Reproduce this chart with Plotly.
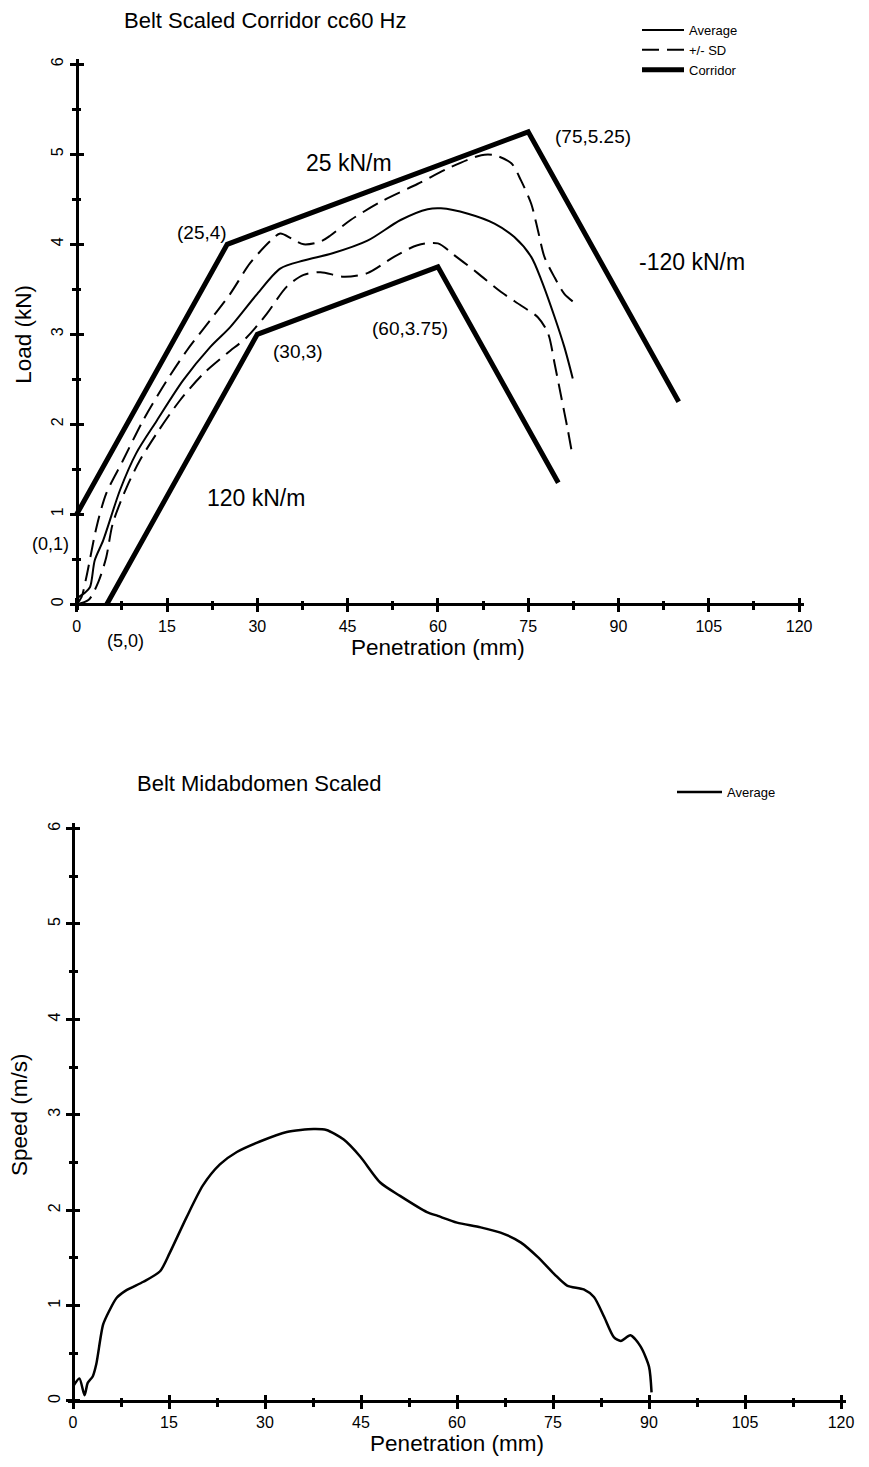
import plotly.graph_objects as go

W, H = 869, 1467
FONT = "Liberation Sans, Arial, sans-serif"

# ---------------- data ----------------
x_ticks = [0, 15, 30, 45, 60, 75, 90, 105, 120]
x_minor = [7.5, 22.5, 37.5, 52.5, 67.5, 82.5, 97.5, 112.5]
y_ticks = [0, 1, 2, 3, 4, 5, 6]
y_minor = [0.5, 1.5, 2.5, 3.5, 4.5, 5.5]

avg_x = [0, 0.2, 1.2, 2.2, 3.0, 4.4, 7.2, 9.9, 13.3, 17.7, 22.2, 25.5, 30, 33.8, 37.7,
         42.5, 48.3, 53.8, 58.3, 60.5, 65, 69.4, 72.7, 75.5, 77.2, 79.4, 81, 82.4]
avg_y = [0, 0.07, 0.12, 0.19, 0.49, 0.71, 1.27, 1.68, 2.04, 2.49, 2.86, 3.08, 3.45, 3.73, 3.82,
         3.90, 4.04, 4.27, 4.39, 4.40, 4.34, 4.23, 4.08, 3.86, 3.60, 3.19, 2.86, 2.51]

sd_hi_x = [0, 0.8, 1.6, 3.3, 4.9, 7.7, 11, 15, 18.3, 22.2, 25.5, 28.8, 32.2, 33.8, 35.8,
           37.7, 40.5, 42.2, 45.5, 51, 56.6, 62.2, 67.2, 69.4, 72.2, 73.8, 75.5, 76.6,
           77.7, 79.4, 81, 82.5]
sd_hi_y = [0, 0.08, 0.3, 0.86, 1.23, 1.6, 2.04, 2.49, 2.82, 3.16, 3.45, 3.79, 4.04, 4.12, 4.06,
           4.0, 4.03, 4.1, 4.27, 4.49, 4.67, 4.86, 4.99, 4.99, 4.9, 4.71, 4.45, 4.16,
           3.86, 3.63, 3.45, 3.36]

sd_lo_x = [0, 2, 3.6, 4.9, 6, 8.3, 10.5, 13.3, 17.2, 21, 25, 28.3, 31.6, 34.9, 37.7, 40.5,
           44.4, 48.3, 52.7, 56.6, 60, 62.7, 66.6, 70.5, 73.8, 76.6, 78.3, 79.4, 80.5,
           81.6, 82.2]
sd_lo_y = [0, 0.05, 0.25, 0.52, 0.9, 1.3, 1.6, 1.9, 2.27, 2.56, 2.79, 2.97, 3.23, 3.53, 3.66,
           3.69, 3.64, 3.68, 3.86, 3.99, 4.01, 3.88, 3.68, 3.47, 3.32, 3.19, 3.01, 2.67,
           2.3, 1.93, 1.71]

corr_hi_x = [0, 25, 75, 100]
corr_hi_y = [1, 4, 5.25, 2.25]
corr_lo_x = [5, 30, 60, 80]
corr_lo_y = [0, 3, 3.75, 1.35]

spd_x = [0, 1.0, 1.8, 2.3, 3.1, 3.65, 4.7, 5.7, 6.8, 8.3, 11, 13.6, 15.1, 17.7, 20.3,
         22.95, 25.6, 29.2, 33.4, 37.6, 39.6, 42.3, 44.9, 48, 51.1, 55.3, 57, 60, 63.7,
         67.4, 70, 72.6, 75.2, 77.2, 79.8, 81.4, 83, 84.5, 85.6, 87.1, 88.7, 90, 90.4]
spd_y = [0.15, 0.235, 0.06, 0.19, 0.26, 0.39, 0.80, 0.95, 1.08, 1.16, 1.25, 1.36, 1.55,
         1.92, 2.26, 2.48, 2.61, 2.72, 2.82, 2.85, 2.84, 2.74, 2.56, 2.29, 2.15, 1.98,
         1.94, 1.87, 1.82, 1.75, 1.66, 1.51, 1.33, 1.21, 1.17, 1.09, 0.88, 0.67, 0.63,
         0.69, 0.57, 0.36, 0.09]

# ---------------- geometry (pixels) ----------------
XR = [-0.8, 120.8]
YR = [-0.06, 6.06]
TOP = dict(x0=76.7, sx=6.02, y0=604.3, sy=90.0)
BOT = dict(x0=73.0, sx=6.4, y0=1401.0, sy=95.4)


def px(x):
    return x / W


def py(y):
    return 1 - y / H


def dom(g):
    xd = [px(g["x0"] + g["sx"] * XR[0]), px(g["x0"] + g["sx"] * XR[1])]
    yd = [py(g["y0"] - g["sy"] * YR[0]), py(g["y0"] - g["sy"] * YR[1])]
    return xd, yd


fig = go.Figure()

BLK = "black"
fig.add_trace(go.Scatter(x=avg_x, y=avg_y, mode="lines", name="Average",
                         line=dict(color=BLK, width=2, shape="spline", smoothing=0.8),
                         legend="legend"))
fig.add_trace(go.Scatter(x=sd_hi_x, y=sd_hi_y, mode="lines", name="+/- SD",
                         legendgroup="sd",
                         line=dict(color=BLK, width=2, dash="17px,8px", shape="spline", smoothing=0.8),
                         legend="legend"))
fig.add_trace(go.Scatter(x=sd_lo_x, y=sd_lo_y, mode="lines", name="+/- SD",
                         legendgroup="sd", showlegend=False,
                         line=dict(color=BLK, width=2, dash="17px,8px", shape="spline", smoothing=0.8)))
fig.add_trace(go.Scatter(x=corr_hi_x, y=corr_hi_y, mode="lines", name="Corridor",
                         legendgroup="corr",
                         line=dict(color=BLK, width=5), legend="legend"))
fig.add_trace(go.Scatter(x=corr_lo_x, y=corr_lo_y, mode="lines", name="Corridor",
                         legendgroup="corr", showlegend=False,
                         line=dict(color=BLK, width=5)))
fig.add_trace(go.Scatter(x=[], y=[], xaxis="x3", yaxis="y3", showlegend=False))

fig.add_trace(go.Scatter(x=spd_x, y=spd_y, mode="lines", name="Average",
                         xaxis="x2", yaxis="y2", legend="legend2",
                         line=dict(color=BLK, width=2.5, shape="spline", smoothing=0.7)))
fig.add_trace(go.Scatter(x=[], y=[], xaxis="x4", yaxis="y4", showlegend=False))

TICKF = dict(family=FONT, size=16, color=BLK)
AXTF = dict(family=FONT, size=22.5, color=BLK)


def main_x(g, title, standoff):
    xd, yd = dom(g)
    return dict(domain=xd, range=XR, anchor="free", position=py(g["y0"]),
                showline=True, linewidth=3, linecolor=BLK, showgrid=False, zeroline=False,
                ticks="outside", ticklen=6, tickwidth=2.5, tickcolor=BLK,
                tickmode="array", tickvals=x_ticks, ticktext=[str(v) for v in x_ticks],
                minor=dict(ticks="outside", ticklen=3.5, tickwidth=2.5, tickcolor=BLK,
                           tickmode="array", tickvals=x_minor),
                tickfont=TICKF,
                title=dict(text=title, font=AXTF, standoff=standoff),
                automargin=False)


def main_y(g, title, standoff):
    xd, yd = dom(g)
    return dict(domain=yd, range=YR, anchor="free", position=px(g["x0"]),
                showline=True, linewidth=3, linecolor=BLK, showgrid=False, zeroline=False,
                ticks="outside", ticklen=6, tickwidth=2.5, tickcolor=BLK,
                tickmode="array", tickvals=y_ticks, ticktext=[str(v) for v in y_ticks],
                tickangle=-90,
                minor=dict(ticks="outside", ticklen=3.5, tickwidth=2.5, tickcolor=BLK,
                           tickmode="array", tickvals=y_minor),
                tickfont=TICKF,
                title=dict(text=title, font=AXTF, standoff=standoff),
                automargin=False)


def over_x(g, base):
    return dict(overlaying=base, range=XR, anchor="free", position=py(g["y0"]),
                showline=False, showgrid=False, zeroline=False, showticklabels=False,
                ticks="inside", ticklen=6, tickwidth=2.5, tickcolor=BLK,
                tickmode="array", tickvals=x_ticks,
                minor=dict(ticks="inside", ticklen=3.5, tickwidth=2.5, tickcolor=BLK,
                           tickmode="array", tickvals=x_minor))


def over_y(g, base):
    return dict(overlaying=base, range=YR, anchor="free", position=px(g["x0"]),
                showline=False, showgrid=False, zeroline=False, showticklabels=False,
                ticks="inside", ticklen=6, tickwidth=2.5, tickcolor=BLK,
                tickmode="array", tickvals=y_ticks,
                minor=dict(ticks="inside", ticklen=3.5, tickwidth=2.5, tickcolor=BLK,
                           tickmode="array", tickvals=y_minor))


def ann(text, x, y, size, xanchor="center"):
    return dict(text=text, x=px(x), y=py(y), xref="paper", yref="paper",
                xanchor=xanchor, yanchor="middle", showarrow=False,
                font=dict(family=FONT, size=size, color=BLK))


annotations = [
    ann("Belt Scaled Corridor cc60 Hz", 122, 21, 22, "left"),
    ann("25 kN/m", 349, 163, 23),
    ann("(75,5.25)", 593, 136, 19),
    ann("-120 kN/m", 692, 262, 23),
    ann("(25,4)", 202, 233, 19),
    ann("(30,3)", 298, 352, 19),
    ann("(60,3.75)", 410, 328, 19),
    ann("120 kN/m", 256, 498, 23),
    ann("(0,1)", 50, 544, 18),
    ann("(5,0)", 125, 641, 18),
    ann("Belt Midabdomen Scaled", 135, 783, 22, "left"),
]

fig.update_layout(
    width=W, height=H,
    margin=dict(l=0, r=0, t=0, b=0),
    paper_bgcolor="white", plot_bgcolor="white",
    showlegend=True,
    xaxis=main_x(TOP, "Penetration (mm)", 0),
    yaxis=main_y(TOP, "Load (kN)", 10),
    xaxis3=over_x(TOP, "x"),
    yaxis3=over_y(TOP, "y"),
    xaxis2=main_x(BOT, "Penetration (mm)", 0),
    yaxis2=main_y(BOT, "Speed (m/s)", 10),
    xaxis4=over_x(BOT, "x2"),
    yaxis4=over_y(BOT, "y2"),
    legend=dict(x=px(637), y=py(15), xanchor="left", yanchor="top",
                font=dict(family=FONT, size=13, color=BLK),
                bgcolor="rgba(0,0,0,0)", itemwidth=42, tracegroupgap=0,
                traceorder="normal"),
    legend2=dict(x=px(672), y=py(777), xanchor="left", yanchor="top",
                 font=dict(family=FONT, size=13, color=BLK),
                 bgcolor="rgba(0,0,0,0)", itemwidth=45),
    annotations=annotations,
)

fig.write_html("out.html")
